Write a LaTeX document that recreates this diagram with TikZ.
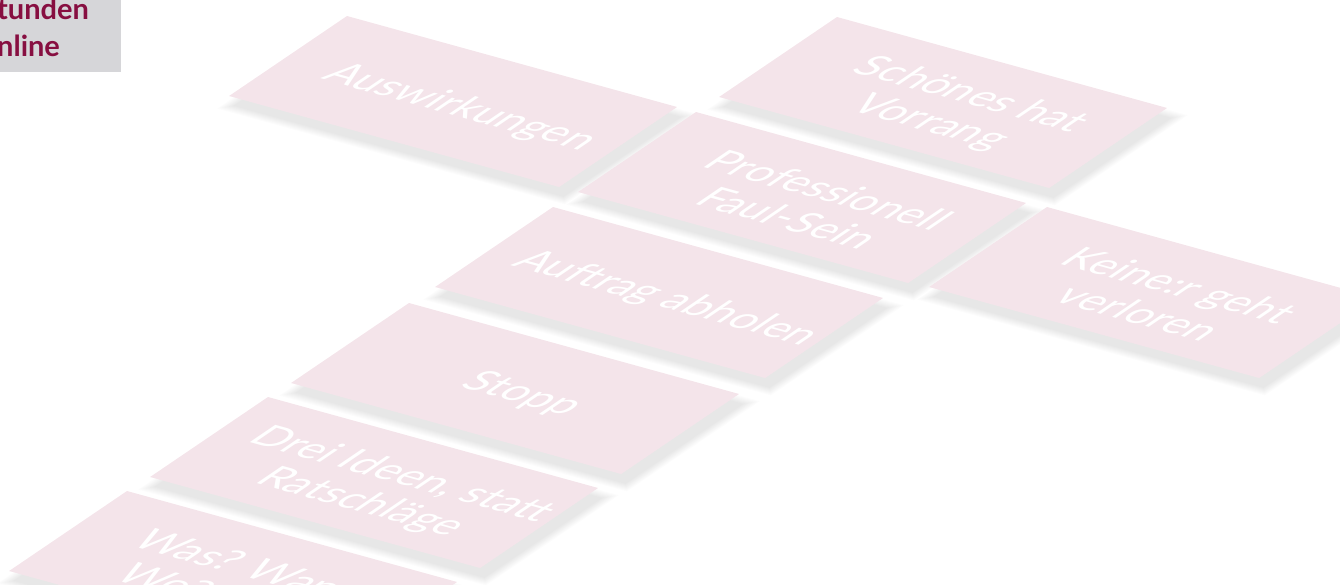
\documentclass[tikz,border=0pt]{standalone}
\usepackage{fontspec}
\setmainfont{Lato}
\usetikzlibrary{calc}
\definecolor{cardpink}{RGB}{244,228,234}
\definecolor{headgrey}{RGB}{214,214,217}
\definecolor{headred}{RGB}{135,15,65}
\tikzset{
	cardplane/.style={cm={0.965,-0.266,0.827,0.561,(0,0)}},
	cardface/.style={fill=cardpink},
	cardtext/.style={text=white, font=\fontsize{43}{49}\selectfont, align=center, transform shape, inner sep=0pt},
	headtext/.style={text=headred, font=\fontsize{29}{37}\selectfont\bfseries, inner sep=0pt, anchor=base west}
}
\def\cardshadow(#1){\begin{scope}[shift={(#1)},cardplane]
	\foreach \k in {0,...,7}
		\fill[black, opacity=0.011] (14-1.3*\k, 11-1.3*\k) rectangle (356+1.3*\k, 153.6+1.3*\k);
\end{scope}}
\def\card(#1)#2#3{\begin{scope}[shift={(#1)},cardplane]
	\fill[cardface] (0,0) rectangle (342,142.6);
	\node[cardtext] (#2) at (183,77) {#3};
\end{scope}}

\begin{document}
\begin{tikzpicture}[x=1pt, y=-1pt]
			%%%%% START %%%%%
			\useasboundingbox (0,0) rectangle (1340,585);
			\clip (0,0) rectangle (1340,585);
			
			\fill[headgrey] (0,0) rectangle (121,72);
			\node[headtext] (head1) at (-3,20) {tunden};
			\node[headtext] (head2) at (-3,57) {nline};
			
			\foreach \p in {{347,16},{837,17},{696,112},{1047,207},{553,207},{409,303},{268,397},{127,491}}
				\cardshadow(\p);
			
			\card(347,16){aus}{Auswirkungen}
			\card(837,17){schoen}{Schönes hat\\Vorrang}
			\card(696,112){faul}{Professionell\\Faul-Sein}
			\card(1047,207){keine}{Keine:r geht\\verloren}
			\card(553,207){auftrag}{Auftrag abholen}
			\card(409,303){stopp}{Stopp}
			\card(268,397){ideen}{Drei Ideen, statt\\Ratschläge}
			\card(127,491){was}{Was? Wann?\\Wo? Wie?}
			
			%%%%% END %%%%%
\end{tikzpicture}
\end{document}
